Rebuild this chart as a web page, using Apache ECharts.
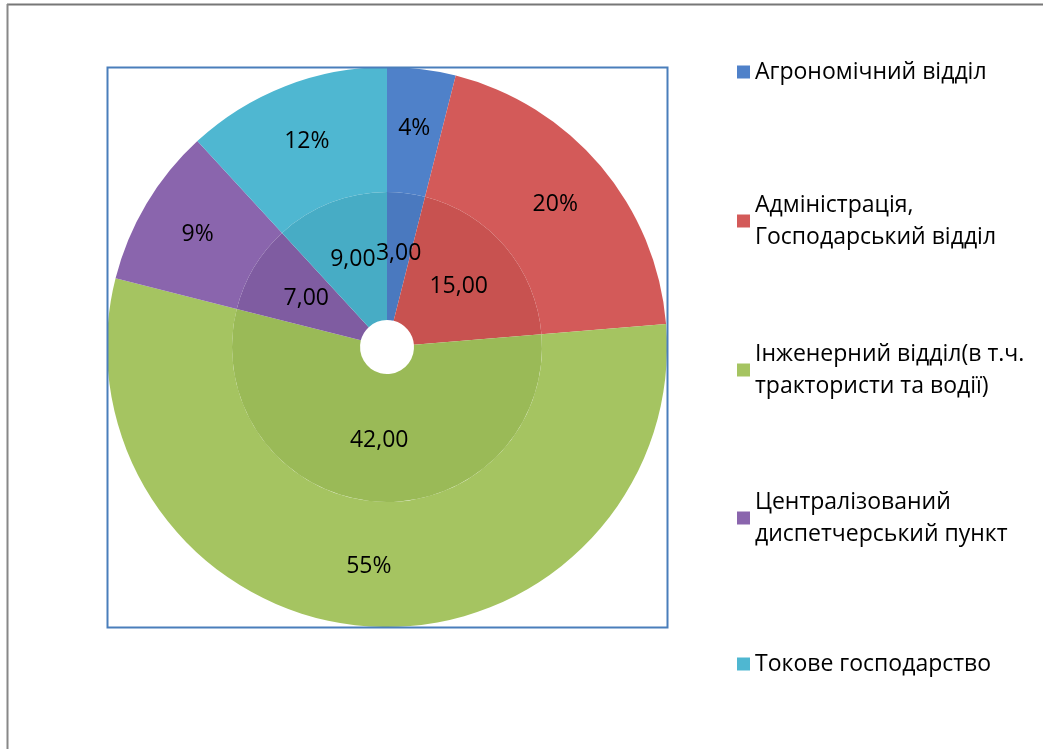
<!DOCTYPE html>
<html>
<head>
<meta charset="utf-8">
<script src="https://cdn.jsdelivr.net/npm/echarts@6/dist/echarts.min.js"></script>
<style>html,body{margin:0;padding:0;background:#fff}#c{width:1043px;height:749px}</style>
</head>
<body>
<div id="c"></div>
<script>
const categories = ['Агрономічний відділ', 'Адміністрація, Господарський відділ', 'Інженерний відділ(в т.ч. трактористи та водії)', 'Централізований диспетчерський пункт', 'Токове господарство'];
const legendLabels = ['Агрономічний відділ', 'Адміністрація,\nГосподарський відділ', 'Інженерний відділ(в т.ч.\nтрактористи та водії)', 'Централізований\nдиспетчерський пункт', 'Токове господарство'];
const values = [3, 15, 42, 7, 9];
const outerColors = ['#4f81c9', '#d35a59', '#a5c461', '#8a65ad', '#4fb7d1'];
const innerColors = ['#4a79bf', '#c85250', '#9aba57', '#7f5ca1', '#47acc5'];

const chart = echarts.init(document.getElementById('c'), null, {renderer: 'canvas'});
const FONT = 'Open Sans';
const legendFirstLine = [72, 221, 370, 518, 664];
const LH = 32;
const legends = categories.map((name, i) => {
  const lines = legendLabels[i].split('\n').length;
  const boxH = lines === 1 ? LH : (LH + LH * lines);
  return {
    data: [name],
    orient: 'vertical',
    left: 737,
    top: legendFirstLine[i] - boxH / 2,
    padding: 0,
    itemWidth: 13,
    itemHeight: 13,
    itemGap: 0,
    itemTextGap: 10,
    icon: 'rect',
    selectedMode: false,
    formatter: () => legendLabels[i],
    textStyle: {
      fontFamily: FONT, fontSize: 23, color: '#000', lineHeight: LH,
      padding: lines === 1 ? 0 : [LH, 0, 0, 0]
    }
  };
});

const fmtVal = v => v.toFixed(2).replace('.', ',');

chart.setOption({
  animation: false,
  backgroundColor: '#fff',
  legend: legends,
  graphic: [
    {type: 'line', shape: {x1: 7, y1: 4.5, x2: 1043, y2: 4.5}, style: {stroke: '#777', lineWidth: 2}, z: 100},
    {type: 'line', shape: {x1: 7.5, y1: 4, x2: 7.5, y2: 749}, style: {stroke: '#888', lineWidth: 2}, z: 100},
    {type: 'rect', shape: {x: 107.5, y: 67.5, width: 560, height: 560}, style: {fill: 'none', stroke: '#4a7ebb', lineWidth: 2}, z: 100}
  ],
  series: [
    {
      type: 'pie',
      center: [387, 347],
      radius: [155, 280],
      startAngle: 90,
      clockwise: true,
      avoidLabelOverlap: false,
      data: categories.map((n, i) => ({name: n, value: values[i], itemStyle: {color: outerColors[i]}})),
      label: {
        show: true, position: 'inside',
        formatter: p => Math.round(p.percent) + '%',
        fontFamily: FONT, fontSize: 23, color: '#000'
      },
      labelLine: {show: false},
      itemStyle: {borderWidth: 0},
      emphasis: {disabled: true}
    },
    {
      type: 'pie',
      center: [387, 347],
      radius: [27, 155],
      startAngle: 90,
      clockwise: true,
      avoidLabelOverlap: false,
      data: categories.map((n, i) => ({name: n, value: values[i], itemStyle: {color: innerColors[i]}})),
      label: {
        show: true, position: 'inside',
        formatter: p => fmtVal(p.value),
        fontFamily: FONT, fontSize: 23, color: '#000'
      },
      labelLine: {show: false},
      itemStyle: {borderWidth: 0},
      emphasis: {disabled: true}
    }
  ]
});
</script>
</body>
</html>
